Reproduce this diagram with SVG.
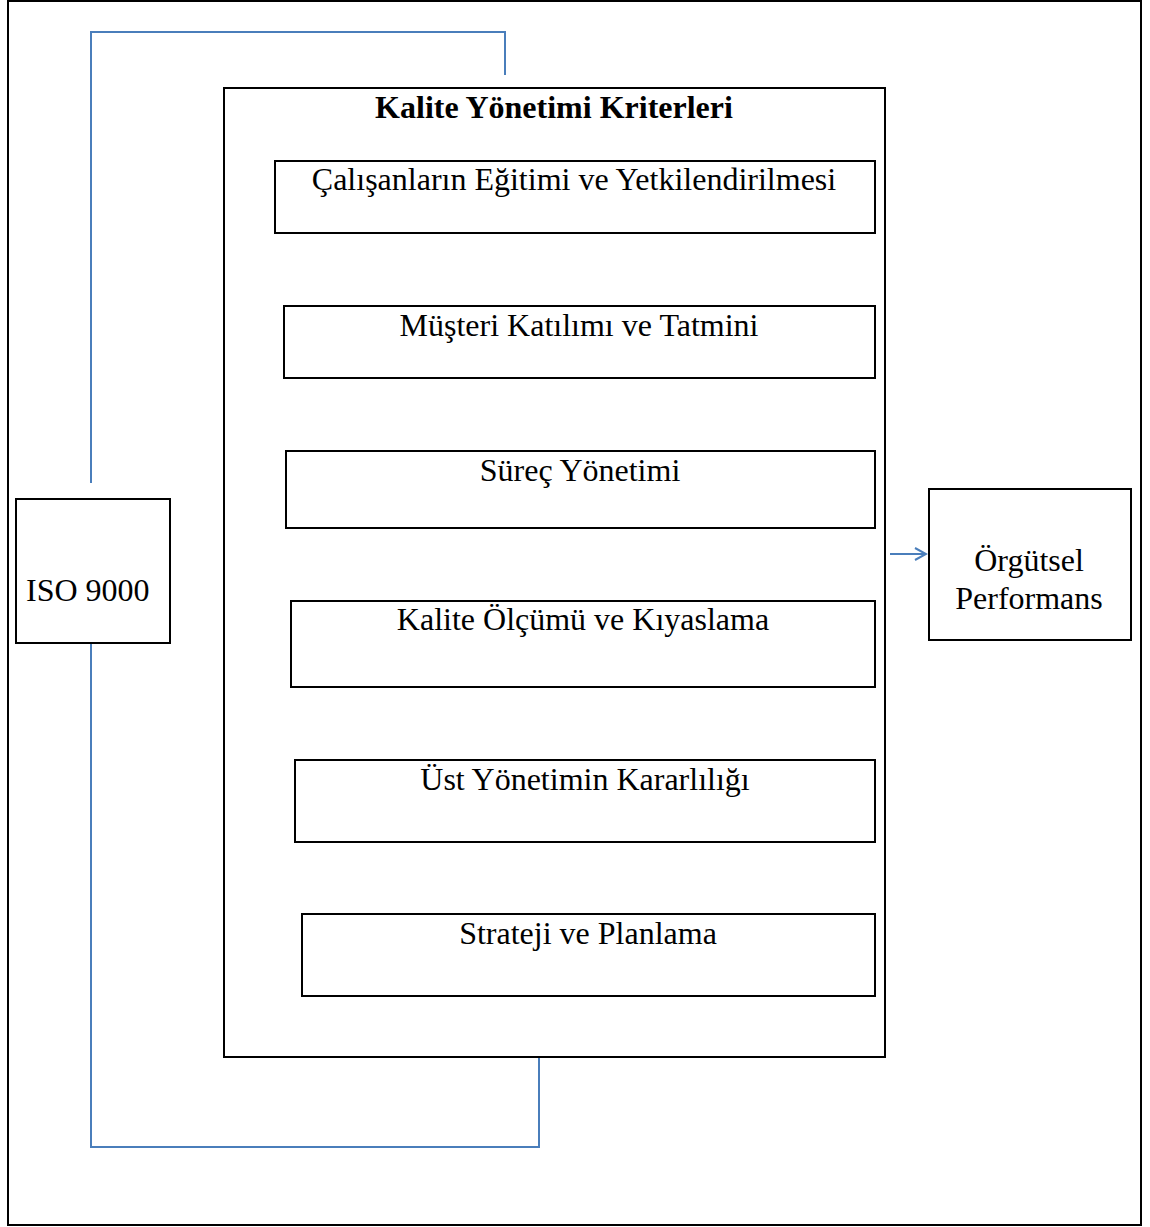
<svg xmlns="http://www.w3.org/2000/svg" width="1150" height="1227" viewBox="0 0 1150 1227">
<defs>
<style>
.box{fill:#fff;stroke:#000;stroke-width:2}
.t{font-family:"Liberation Serif","Times New Roman",serif;font-size:32px;fill:#000}
.c{text-anchor:middle}
.b{font-weight:bold}
.con{fill:none;stroke:#4A7EBB;stroke-width:2}
</style>
<marker id="ah" markerWidth="14" markerHeight="14" refX="12" refY="7" orient="auto" markerUnits="userSpaceOnUse">
<path d="M1,1 L12,7 L1,13" fill="none" stroke="#4A7EBB" stroke-width="2"/>
</marker>
</defs>
<rect width="1150" height="1227" fill="#fff"/>
<rect x="8" y="1" width="1133" height="1224" fill="none" stroke="#000" stroke-width="2"/>
<g id="connectors">
<path class="con" d="M91,483 V32 H505 V75"/>
<path class="con" d="M91,642 V1147 H539 V1058"/>
<path class="con" d="M890,554 H926" marker-end="url(#ah)"/>
</g>
<g id="main">
<rect class="box" x="224" y="88" width="661" height="969"/>
<text class="t c b" x="554" y="118">Kalite Yönetimi Kriterleri</text>
</g>
<g id="n1"><rect class="box" x="275" y="161" width="600" height="72"/><text class="t c" x="574" y="190">Çalışanların Eğitimi ve Yetkilendirilmesi</text></g>
<g id="n2"><rect class="box" x="284" y="306" width="591" height="72"/><text class="t c" x="579" y="336">Müşteri Katılımı ve Tatmini</text></g>
<g id="n3"><rect class="box" x="286" y="451" width="589" height="77"/><text class="t c" x="580" y="481">Süreç Yönetimi</text></g>
<g id="n4"><rect class="box" x="291" y="601" width="584" height="86"/><text class="t c" x="583" y="630">Kalite Ölçümü ve Kıyaslama</text></g>
<g id="n5"><rect class="box" x="295" y="760" width="580" height="82"/><text class="t c" x="585" y="790">Üst Yönetimin Kararlılığı</text></g>
<g id="n6"><rect class="box" x="302" y="914" width="573" height="82"/><text class="t c" x="588" y="944">Strateji ve Planlama</text></g>
<g id="iso"><rect class="box" x="16" y="499" width="154" height="144"/><text class="t" x="26" y="601">ISO 9000</text></g>
<g id="perf"><rect class="box" x="929" y="489" width="202" height="151"/><text class="t c" x="1029" y="571">Örgütsel</text><text class="t c" x="1029" y="609">Performans</text></g>
</svg>
